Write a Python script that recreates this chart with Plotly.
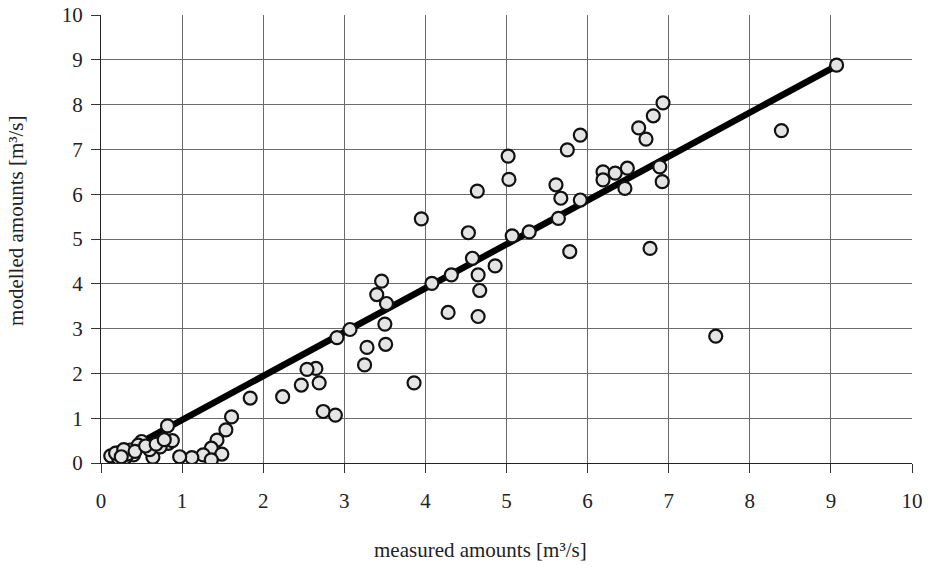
import plotly.graph_objects as go

# measured vs modelled discharge [m3/s]
measured = [
    9.07, 8.39, 7.58,
    6.93, 6.81, 6.63, 6.72, 5.91, 5.75, 5.61, 5.67, 5.91, 5.64, 5.78,
    6.19, 6.19, 6.34, 6.49, 6.46, 6.89, 6.92, 6.77,
    5.02, 5.03, 4.64, 3.95, 4.53, 5.07, 5.28, 4.58, 4.86, 4.32, 4.65,
    4.08, 4.67, 4.28, 4.65,
    3.46, 3.40, 3.52, 3.50, 3.07, 2.91, 3.28, 3.51, 3.25, 3.86,
    2.65, 2.54, 2.47, 2.69, 2.24, 1.84, 2.74, 2.89,
    0.12, 0.82, 1.61, 1.54, 1.43, 1.36, 1.49, 1.26, 1.12, 0.97, 0.64,
    0.83, 0.50, 1.36, 0.36, 0.26, 0.46, 0.73, 0.20, 0.30, 0.40, 0.60,
    0.88, 0.22, 0.33, 0.18, 0.28, 0.42, 0.55, 0.68, 0.78, 0.25,
]
modelled = [
    8.88, 7.42, 2.83,
    8.04, 7.75, 7.48, 7.23, 7.32, 6.99, 6.21, 5.91, 5.87, 5.46, 4.72,
    6.50, 6.32, 6.47, 6.58, 6.13, 6.61, 6.28, 4.79,
    6.85, 6.33, 6.07, 5.45, 5.14, 5.07, 5.16, 4.57, 4.40, 4.20, 4.20,
    4.01, 3.85, 3.36, 3.27,
    4.06, 3.76, 3.56, 3.10, 2.98, 2.80, 2.58, 2.65, 2.19, 1.79,
    2.11, 2.09, 1.74, 1.79, 1.48, 1.45, 1.15, 1.07,
    0.16, 0.83, 1.03, 0.74, 0.51, 0.33, 0.20, 0.18, 0.12, 0.14, 0.13,
    0.44, 0.48, 0.07, 0.29, 0.25, 0.40, 0.36, 0.22, 0.12, 0.18, 0.30,
    0.50, 0.10, 0.20, 0.22, 0.30, 0.26, 0.38, 0.42, 0.52, 0.14,
]

# fitted regression line end points
fit_x = [0.12, 9.05]
fit_y = [0.10, 8.85]

ticks = list(range(0, 11))
serif = "Times New Roman"

fig = go.Figure()
fig.add_trace(go.Scatter(
    x=fit_x, y=fit_y, mode="lines",
    line=dict(color="black", width=6.5),
    hoverinfo="skip", showlegend=False,
))
fig.add_trace(go.Scatter(
    x=measured, y=modelled, mode="markers",
    marker=dict(size=13, color="#e4e4e4",
                line=dict(color="#111111", width=2.2)),
    showlegend=False,
))

axis_common = dict(
    range=[0, 10], tickvals=ticks, ticktext=[str(t) for t in ticks],
    showgrid=True, gridcolor="#6a6a6a", gridwidth=1,
    zeroline=False, showline=True, linecolor="#222222", linewidth=1.2,
    ticks="outside", ticklen=9, tickcolor="#333333", tickwidth=1,
    tickfont=dict(family=serif, size=21, color="#222222"),
    automargin=False,
)

fig.update_xaxes(**axis_common, ticklabelstandoff=10)
fig.update_yaxes(**axis_common, ticklabelstandoff=4)

fig.add_annotation(
    text="measured amounts [m³/s]", xref="paper", yref="paper",
    x=0.468, y=-0.195, xanchor="center", yanchor="middle", showarrow=False,
    font=dict(family=serif, size=21, color="#222222"),
)
fig.add_annotation(
    text="modelled amounts [m³/s]", xref="paper", yref="paper",
    x=-0.105, y=0.54, xanchor="center", yanchor="middle", showarrow=False,
    textangle=-90, font=dict(family=serif, size=21, color="#222222"),
)

fig.update_layout(
    width=936, height=568,
    margin=dict(l=101, r=24, t=15, b=105),
    plot_bgcolor="white", paper_bgcolor="white",
    font=dict(family=serif),
)

fig.write_html("out.html")
